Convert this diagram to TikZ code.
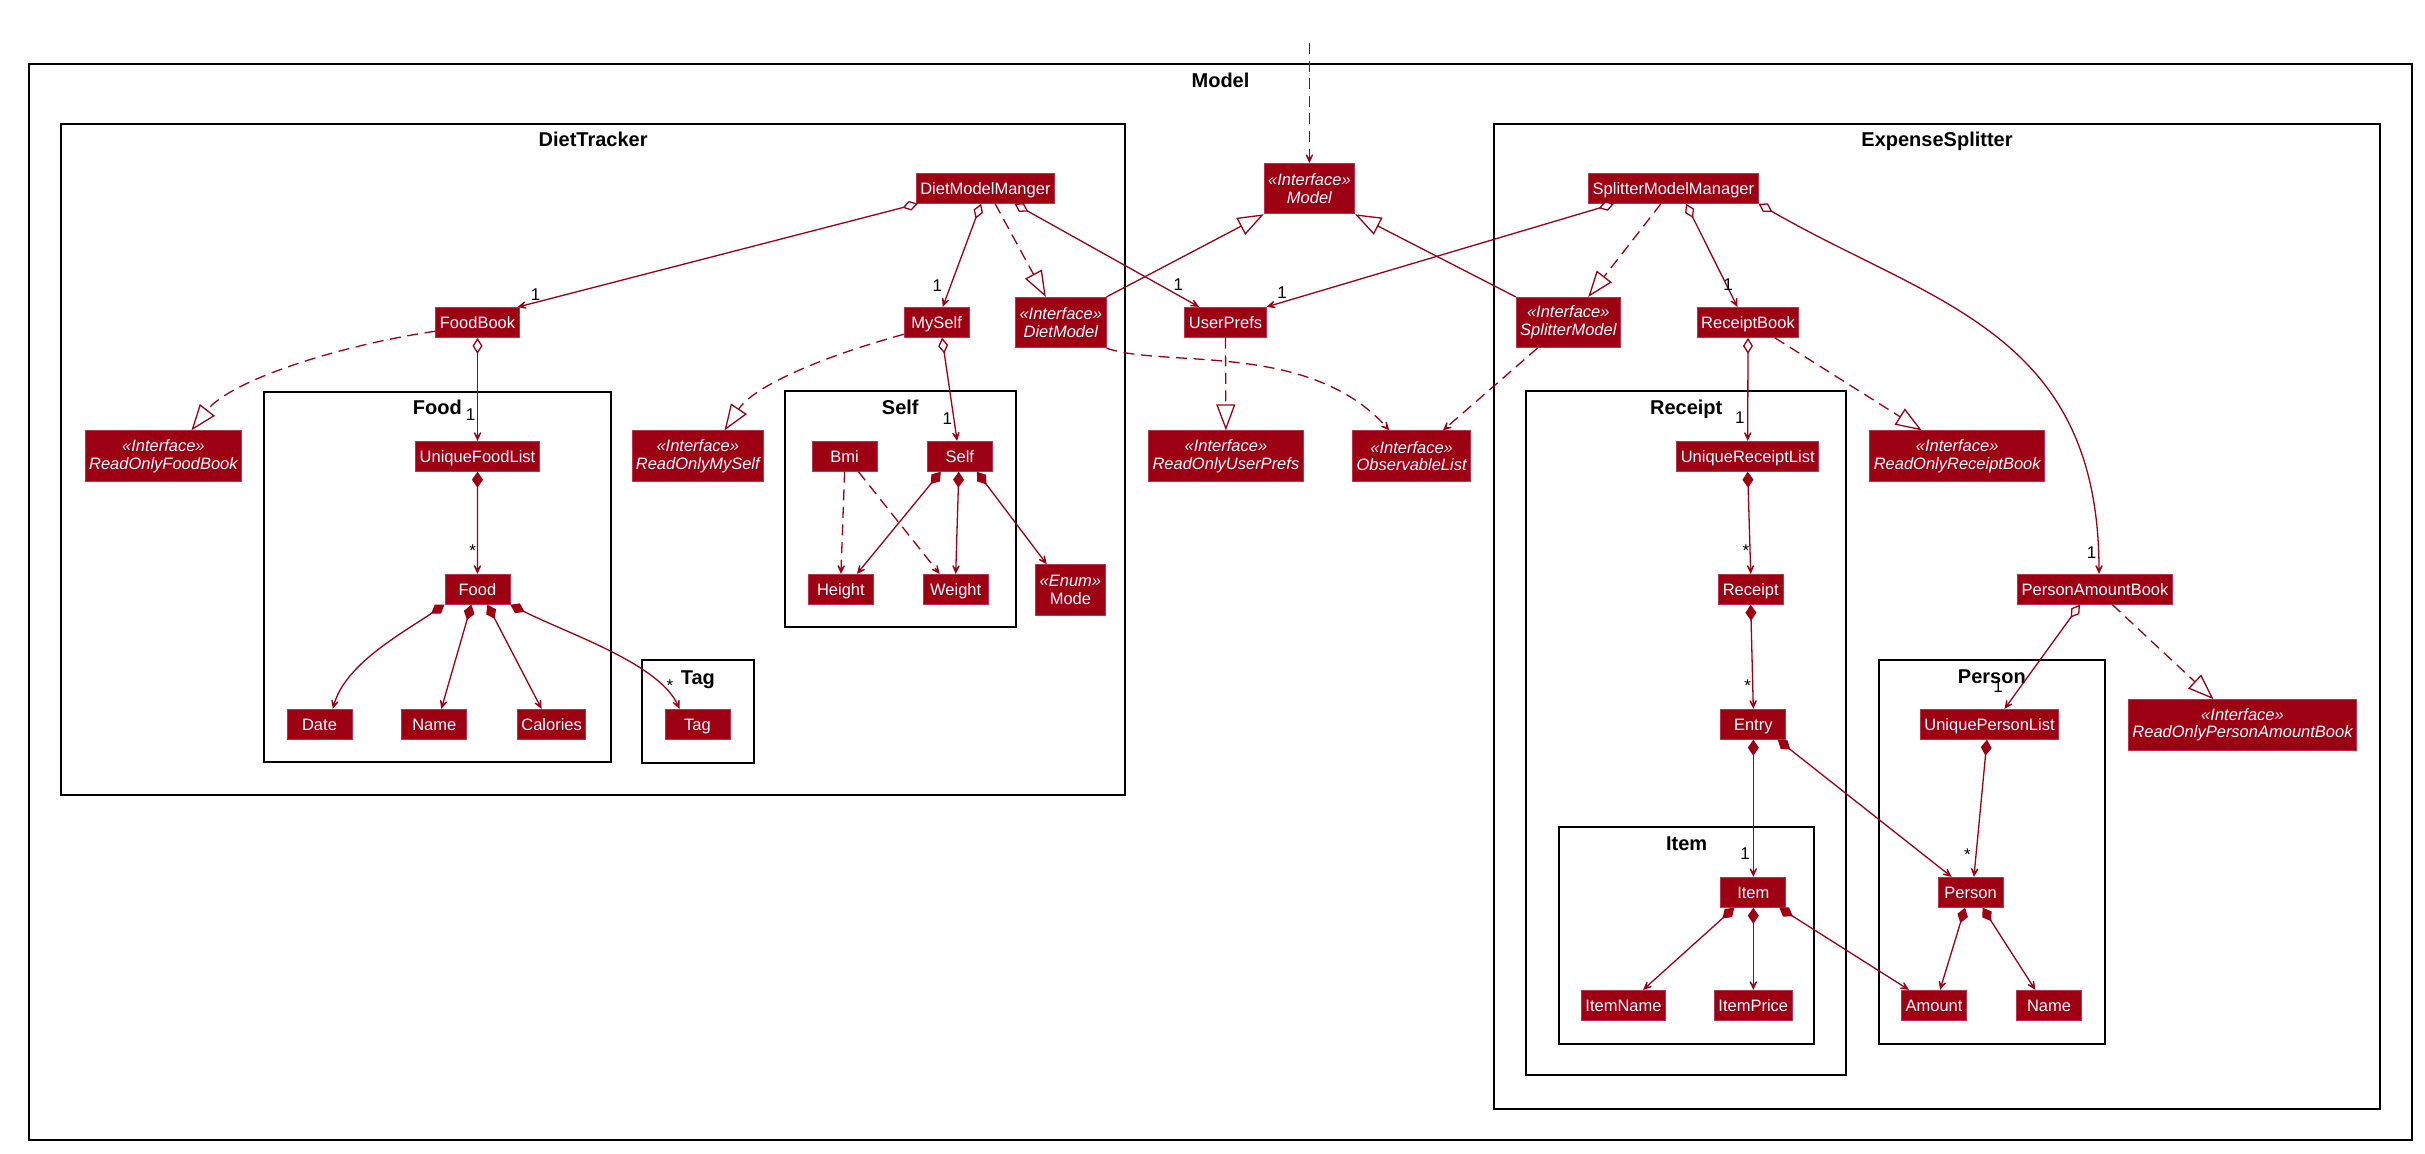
\documentclass[tikz,border=0pt]{standalone}
\usepackage{fontspec}
\setmainfont{Liberation Sans}
\usepackage{tikz}
\usetikzlibrary{positioning}
\usetikzlibrary{arrows.meta, calc}

\definecolor{umlred}{HTML}{9D0012}
\definecolor{boxline}{HTML}{B3364C}

\begin{document}
\begin{tikzpicture}[
    x = 0.5pt,
    y = -0.5pt,
    link/.style = {draw = umlred, line width = 0.65pt},
    assoc/.style = {link, -{Stealth[length=7pt, width=6.5pt, inset=4.6pt]}},
    agg/.style = {link, {Diamond[fill=white, length=8pt, width=5pt]}-{Stealth[length=7pt, width=6.5pt, inset=4.6pt]}},
    comp/.style = {link, {Diamond[length=8pt, width=5.5pt]}-{Stealth[length=7pt, width=6.5pt, inset=4.6pt]}},
    gen/.style = {link, -{Triangle[fill=white, length=13pt, width=9.5pt]}},
    real/.style = {gen, dash pattern = on 5.5pt off 3.3pt},
    dep/.style = {assoc, dash pattern = on 5.5pt off 3.3pt},
    mult/.style = {font = \fontsize{8.5}{10}\selectfont, text = black, inner sep = 0pt},
    pkg/.style = {draw = black, line width = 1pt},
    pkgtitle/.style = {font = \fontsize{10}{12}\selectfont\bfseries, anchor = base, inner sep = 0pt},
    ]

    \tikzstyle{umlclass}=[
    draw = boxline,
    line width = 0.4pt,
    fill = umlred,
    text = white,
    minimum width = 32.5pt,
    inner xsep = 2pt,
    inner ysep = 1pt,
    ]
    \tikzstyle{cls}=[umlclass, font = \fontsize{8.25}{8.85}\selectfont,
    minimum height = 15pt, text height = 5.9pt, text depth = 0pt]
    \tikzstyle{iface}=[umlclass, font = \fontsize{8.25}{8.85}\selectfont\itshape,
    align = center, minimum height = 25.2pt]

    \path[fill = white, use as bounding box] (0,0) rectangle (2425,1154);

    % packages
    \draw[pkg] (29,64) rectangle (2412,1140);
    \draw[pkg] (61.2,124) rectangle (1125,795.3);
    \draw[pkg] (1494,124) rectangle (2380,1108.7);
    \draw[pkg] (264,391.7) rectangle (610.6,762);
    \draw[pkg] (642,660) rectangle (753.6,762.7);
    \draw[pkg] (785,391) rectangle (1015.6,627.3);
    \draw[pkg] (1526,390.7) rectangle (1846.4,1075.3);
    \draw[pkg] (1558.8,827.3) rectangle (1814.4,1043.7);
    \draw[pkg] (1879,660) rectangle (2104.6,1043.7);

    \node[pkgtitle] (tmodel) at (1220.5,88) {Model};
    \node[pkgtitle] (tdiet) at (593.1,147) {DietTracker};
    \node[pkgtitle] (texpense) at (1937,147) {ExpenseSplitter};
    \node[pkgtitle] (tfood) at (437.3,414.5) {Food};
    \node[pkgtitle] (ttag) at (697.8,684) {Tag};
    \node[pkgtitle] (tself) at (900.3,414.5) {Self};
    \node[pkgtitle] (treceipt) at (1686.2,414.5) {Receipt};
    \node[pkgtitle] (titem) at (1686.6,850.5) {Item};
    \node[pkgtitle] (tperson) at (1991.8,683.5) {Person};

    % classes
    \node[iface] (model) at (1309.4,188.7) {«Interface»\\Model};
    \node[cls] (dmm) at (985.4,188.3) {DietModelManger};
    \node[cls] (myself) at (936.7,322.3) {MySelf};
    \node[iface] (dietmodel) at (1060.8,322.5) {«Interface»\\DietModel};
    \node[cls] (userprefs) at (1225.5,322.3) {UserPrefs};
    \node[iface] (roup) at (1225.9,456) {«Interface»\\ReadOnlyUserPrefs};
    \node[iface] (obslist) at (1411.6,456) {«Interface»\\ObservableList};
    \node[cls] (foodbook) at (477.5,322.5) {FoodBook};
    \node[iface] (rofb) at (163.4,456) {«Interface»\\ReadOnlyFoodBook};
    \node[cls] (ufl) at (477.5,456.3) {UniqueFoodList};
    \node[cls] (food) at (477.4,589.3) {Food};
    \node[cls] (date) at (319.5,724.3) {Date};
    \node[cls] (fname) at (434.3,724.3) {Name};
    \node[cls] (calories) at (551.6,724.3) {Calories};
    \node[cls] (tag) at (697.5,724.3) {Tag};
    \node[iface] (roms) at (697.8,456) {«Interface»\\ReadOnlyMySelf};
    \node[cls] (bmi) at (844.6,456.3) {Bmi};
    \node[cls] (self) at (959.8,456.3) {Self};
    \node[cls] (height) at (840.9,589.3) {Height};
    \node[cls] (weight) at (955.7,589.3) {Weight};
    \node[iface, font = \fontsize{8.25}{8.85}\selectfont] (mode) at (1070.4,589.8) {\textit{«Enum»}\\Mode};
    \node[cls] (smm) at (1673.4,188.3) {SplitterModelManager};
    \node[iface] (splitmodel) at (1568.3,322.5) {«Interface»\\SplitterModel};
    \node[cls] (receiptbook) at (1748,322.5) {ReceiptBook};
    \node[cls] (url) at (1747.7,456.3) {UniqueReceiptList};
    \node[iface] (rorb) at (1957.2,456) {«Interface»\\ReadOnlyReceiptBook};
    \node[cls] (receipt) at (1750.7,589.3) {Receipt};
    \node[cls] (pab) at (2095,589.3) {PersonAmountBook};
    \node[cls] (entry) at (1753.3,724.3) {Entry};
    \node[cls] (upl) at (1989.5,724.3) {UniquePersonList};
    \node[iface] (ropab) at (2242.5,724.8) {«Interface»\\ReadOnlyPersonAmountBook};
    \node[cls] (item) at (1753.3,892.3) {Item};
    \node[cls] (person) at (1970.6,892.3) {Person};
    \node[cls] (itemname) at (1623.5,1005.3) {ItemName};
    \node[cls] (itemprice) at (1753.3,1005.3) {ItemPrice};
    \node[cls] (amount) at (1934,1005.3) {Amount};
    \node[cls] (pname) at (2049,1005.3) {Name};

    \coordinate (caller) at (1309.4,43);

    % relations
    \draw[dep] (caller) -- (model.north);
    \draw[gen] (dietmodel.north east) -- (model.south west);
    \draw[gen] (splitmodel.north west) -- (model.south east);

    \draw[agg] ($(dmm.south west)+(2,0)$) -- ($(foodbook.north east)+(-2,0)$)
        node[mult, xshift=9pt, yshift=6.2pt] {1};
    \draw[agg] ($(dmm.south)+(-4.3,0)$) -- ($(myself.north)+(6,0)$)
        node[mult, xshift=-2.7pt, yshift=10.8pt] {1};
    \draw[real] ($(dmm.south)+(9.7,0)$) -- ($(dietmodel.north)+(-15,0)$);
    \draw[agg] ($(dmm.south)+(29,0)$) -- ($(userprefs.north)+(-26.4,0)$)
        node[mult, xshift=-10.4pt, yshift=11.2pt] {1};

    \draw[agg] ($(smm.south)+(-59.4,0)$) -- (userprefs.north east)
        node[mult, xshift=7.7pt, yshift=7pt] {1};
    \draw[real] ($(smm.south)+(-12.4,0)$) -- ($(splitmodel.north)+(20,0)$);
    \draw[agg] ($(smm.south)+(12.6,0)$) -- ($(receiptbook.north)+(-10.5,0)$)
        node[mult, xshift=-4.75pt, yshift=11.2pt] {1};
    \draw[agg] (smm.south east) .. controls +(173,100) and +(0,-243) .. ($(pab.north)+(4,0)$)
        node[mult, xshift=-3.65pt, yshift=10.5pt] {1};

    \draw[real] (userprefs.south) -- (roup.north);
    \draw[dep] (dietmodel.south east) .. controls +(56.4,20.3) and +(-79.3,-90) .. ($(obslist.north)+(-22.3,0)$);
    \draw[dep] ($(splitmodel.south)+(-30.8,0)$) -- ($(obslist.north)+(31.3,0)$);

    \draw[real] ($(foodbook.south west)+(0,-6.7)$) .. controls +(-96,14) and +(39,-50) .. ($(rofb.north)+(28,0)$);
    \draw[agg] (foodbook.south) -- (ufl.north)
        node[mult, xshift=-3.5pt, yshift=13.2pt] {1};
    \draw[comp] (ufl.south) -- (food.north)
        node[mult, xshift=-2.35pt, yshift=11.5pt] {*};
    \draw[comp] (food.south west) .. controls +(-45,30) and +(12,-44) .. ($(date.north)+(13.3,0)$);
    \draw[comp] ($(food.south)+(-6,0)$) -- ($(fname.north)+(7,0)$);
    \draw[comp] ($(food.south)+(10,0)$) -- ($(calories.north)+(-10,0)$);
    \draw[comp] (food.south east) .. controls +(60,30) and +(-20,-45) .. ($(tag.north)+(-18,0)$)
        node[mult, xshift=-4.75pt, yshift=11.8pt] {*};

    \draw[real] ($(myself.south west)+(0,-3.4)$) .. controls +(-80,22) and +(30,-45) .. ($(roms.north)+(26.7,0)$);
    \draw[agg] ($(myself.south)+(5.3,0)$) -- ($(self.north)+(-2.7,0)$)
        node[mult, xshift=-4.9pt, yshift=11.2pt] {1};
    \draw[comp] ($(self.south)+(-19,0)$) -- ($(height.north)+(16,0)$);
    \draw[comp] ($(self.south)+(-1,0)$) -- (weight.north);
    \draw[comp] ($(self.south)+(17,0)$) -- ($(mode.north)+(-23.7,0)$);
    \draw[dep] (bmi.south) -- (height.north);
    \draw[dep] ($(bmi.south)+(13.8,0)$) -- ($(weight.north)+(-16,0)$);

    \draw[agg] (receiptbook.south) -- (url.north)
        node[mult, xshift=-3.9pt, yshift=11.5pt] {1};
    \draw[real] ($(receiptbook.south)+(27,0)$) -- ($(rorb.north)+(-35.5,0)$);
    \draw[comp] (url.south) -- (receipt.north)
        node[mult, xshift=-2.35pt, yshift=11.5pt] {*};
    \draw[comp] (receipt.south) -- (entry.north)
        node[mult, xshift=-2.8pt, yshift=11.5pt] {*};
    \draw[comp] (entry.south) -- (item.north)
        node[mult, xshift=-4.15pt, yshift=11.65pt] {1};
    \draw[comp] ($(entry.south)+(24.5,0)$) -- ($(person.north)+(-19,0)$);

    \draw[agg] ($(pab.south)+(-15,0)$) -- ($(upl.north)+(15,0)$)
        node[mult, xshift=-3.25pt, yshift=11.3pt] {1};
    \draw[real] ($(pab.south)+(17.4,0)$) -- ($(ropab.north)+(-29,0)$);
    \draw[comp] ($(upl.south)+(-2.5,0)$) -- ($(person.north)+(3.3,0)$)
        node[mult, xshift=-3.3pt, yshift=11pt] {*};

    \draw[comp] ($(item.south)+(-19,0)$) -- ($(itemname.north)+(19.5,0)$);
    \draw[comp] (item.south) -- (itemprice.north);
    \draw[comp] ($(item.south)+(26,0)$) -- ($(amount.north)+(-25,0)$);
    \draw[comp] ($(person.south)+(-5.6,0)$) -- ($(amount.north)+(6,0)$);
    \draw[comp] ($(person.south)+(12,0)$) -- ($(pname.north)+(-13.7,0)$);
  \end{tikzpicture}
\end{document}
